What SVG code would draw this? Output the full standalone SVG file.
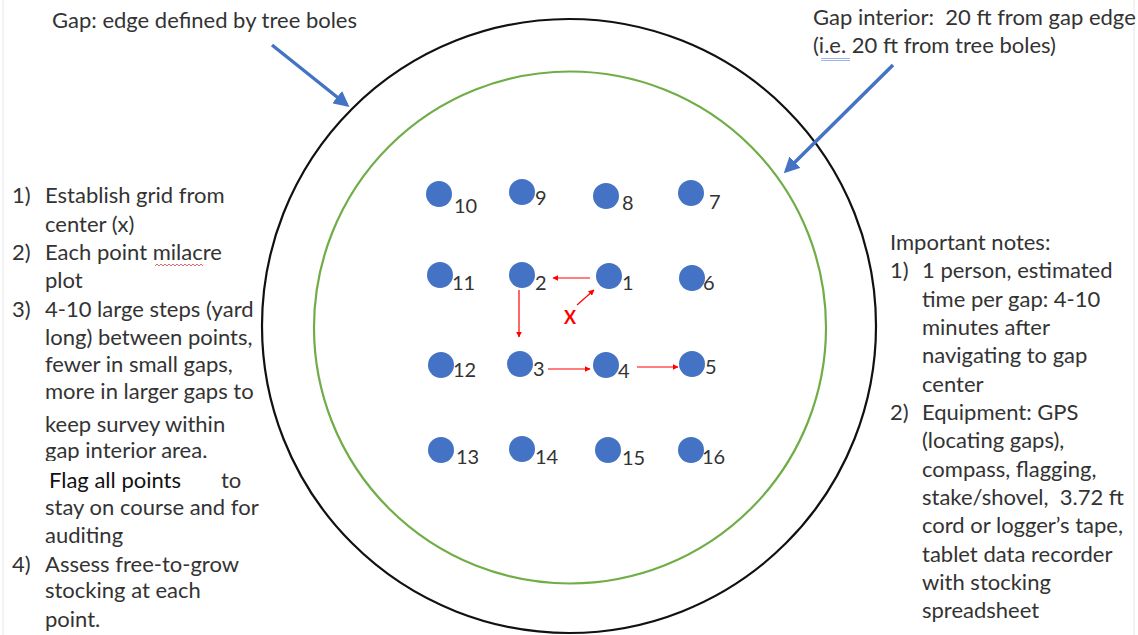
<svg xmlns="http://www.w3.org/2000/svg" width="1138" height="635" viewBox="0 0 1138 635">
<style>
.t{font-family:Lato,"Liberation Sans",sans-serif;font-size:22px;fill:#333;white-space:pre}
.n{font-family:Lato,"Liberation Sans",sans-serif;font-size:20px;fill:#333}
.dot{fill:#4472C4}
.red{stroke:#FF0000;stroke-width:1.2;fill:none;marker-end:url(#rh)}
.blue{stroke:#4472C4;stroke-width:3.5;fill:none;marker-end:url(#bh)}
</style>
<defs>
<marker id="rh" viewBox="0 0 10 10" refX="9" refY="5" markerWidth="6" markerHeight="6" markerUnits="userSpaceOnUse" orient="auto"><path d="M0,0 L10,5 L0,10 z" fill="#FF0000"/></marker>
<marker id="bh" viewBox="0 0 10 10" refX="8" refY="5" markerWidth="4.5" markerHeight="4.5" orient="auto"><path d="M0,0 L10,5 L0,10 z" fill="#4472C4"/></marker>
</defs>
<rect width="1138" height="635" fill="#fff"/>
<line x1="3" y1="0" x2="3" y2="635" stroke="#e6e6e6" stroke-width="1"/>
<line x1="1134" y1="0" x2="1134" y2="635" stroke="#e6e6e6" stroke-width="1"/>
<g id="gap-edge"><circle cx="569" cy="326" r="307" fill="none" stroke="#111" stroke-width="2.2"/></g>
<g id="gap-interior"><circle cx="570" cy="327.5" r="256" fill="none" stroke="#70AD47" stroke-width="2.2"/></g>
<g id="label-edge"><text class="t" x="52" y="28">Gap: edge defined by tree boles</text></g>
<g id="label-interior"><text class="t" x="813" y="25">Gap interior:  20 ft from gap edge</text><text class="t" x="813" y="53">(i.e. 20 ft from tree boles)</text><path d="M821,58.5 H850 M821,60.5 H850" stroke="#9bb7e8" stroke-width="1"/></g>
<g id="points">
<g id="p10"><circle class="dot" cx="439" cy="194" r="13"/><text class="n" x="454" y="213">10</text></g>
<g id="p9"><circle class="dot" cx="522" cy="192" r="13"/><text class="n" x="535" y="205">9</text></g>
<g id="p8"><circle class="dot" cx="606" cy="196" r="13"/><text class="n" x="622" y="210">8</text></g>
<g id="p7"><circle class="dot" cx="691" cy="193" r="13"/><text class="n" x="709" y="209">7</text></g>
<g id="p11"><circle class="dot" cx="440" cy="275" r="13"/><text class="n" x="452" y="290">11</text></g>
<g id="p2"><circle class="dot" cx="522" cy="275" r="13"/><text class="n" x="535" y="290">2</text></g>
<g id="p1"><circle class="dot" cx="609" cy="276" r="13"/><text class="n" x="622" y="290">1</text></g>
<g id="p6"><circle class="dot" cx="692" cy="278" r="13"/><text class="n" x="703" y="290">6</text></g>
<g id="p12"><circle class="dot" cx="441" cy="365" r="13"/><text class="n" x="453" y="377">12</text></g>
<g id="p3"><circle class="dot" cx="520" cy="364" r="13"/><text class="n" x="533" y="376">3</text></g>
<g id="p4"><circle class="dot" cx="606" cy="365" r="13"/><text class="n" x="618" y="378">4</text></g>
<g id="p5"><circle class="dot" cx="692" cy="364" r="13"/><text class="n" x="705" y="374">5</text></g>
<g id="p13"><circle class="dot" cx="441" cy="450" r="13"/><text class="n" x="456" y="464">13</text></g>
<g id="p14"><circle class="dot" cx="522" cy="449" r="13"/><text class="n" x="535" y="464">14</text></g>
<g id="p15"><circle class="dot" cx="608" cy="450" r="13"/><text class="n" x="622" y="465">15</text></g>
<g id="p16"><circle class="dot" cx="691" cy="450" r="13"/><text class="n" x="702" y="464">16</text></g>
</g>
<g id="center-x"><text x="570" y="324" text-anchor="middle" font-family="Lato,'Liberation Sans',sans-serif" font-size="18" font-weight="bold" fill="#FF0000">X</text></g>
<g id="connectors">
<path class="blue" d="M272,45 L347,105"/>
<path class="blue" d="M893,65 L786,171"/>
<path class="red" d="M590,278 L553,278"/>
<path class="red" d="M577,305 L594,290"/>
<path class="red" d="M519,290 L519,337"/>
<path class="red" d="M548,369 L590,369"/>
<path class="red" d="M637,367 L678,367"/>
</g>
<g id="left-notes">
<text class="t" x="12" y="203">1)</text><text class="t" x="45" y="203">Establish grid from</text>
<text class="t" x="45" y="232">center (x)</text>
<text class="t" x="12" y="260">2)</text><text class="t" x="45" y="260">Each point milacre</text>
<path d="M155,266 l2,-2 l2,2 l2,-2 l2,2 l2,-2 l2,2 l2,-2 l2,2 l2,-2 l2,2 l2,-2 l2,2 l2,-2 l2,2 l2,-2 l2,2 l2,-2 l2,2 l2,-2 l2,2 l2,-2 l2,2 l2,-2 l2,2" stroke="#e04040" stroke-width="0.8" fill="none"/>
<text class="t" x="45" y="288">plot</text>
<text class="t" x="12" y="317">3)</text><text class="t" x="45" y="317">4-10 large steps (yard</text>
<text class="t" x="45" y="345">long) between points,</text>
<text class="t" x="45" y="372">fewer in small gaps,</text>
<text class="t" x="45" y="399">more in larger gaps to</text>
<text class="t" x="45" y="432">keep survey within</text>
<text class="t" x="45" y="458">gap interior area.</text>
<rect x="40" y="461" width="150" height="30" fill="#fff"/>
<text class="t" x="49" y="488" style="fill:#111">Flag all points</text><text class="t" x="221" y="488">to</text>
<text class="t" x="45" y="515">stay on course and for</text>
<text class="t" x="45" y="543">auditing</text>
<text class="t" x="12" y="572">4)</text><text class="t" x="45" y="572">Assess free-to-grow</text>
<text class="t" x="45" y="598">stocking at each</text>
<text class="t" x="45" y="627">point.</text>
</g>
<g id="right-notes">
<text class="t" x="890" y="250">Important notes:</text>
<text class="t" x="890" y="278">1)</text><text class="t" x="922" y="278">1 person, estimated</text>
<text class="t" x="922" y="307">time per gap: 4-10</text>
<text class="t" x="922" y="335">minutes after</text>
<text class="t" x="922" y="363">navigating to gap</text>
<text class="t" x="922" y="392">center</text>
<text class="t" x="890" y="420">2)</text><text class="t" x="922" y="420">Equipment: GPS</text>
<text class="t" x="922" y="448">(locating gaps),</text>
<text class="t" x="922" y="477">compass, flagging,</text>
<text class="t" x="922" y="505">stake/shovel,  3.72 ft</text>
<text class="t" x="922" y="533">cord or logger’s tape,</text>
<text class="t" x="922" y="562">tablet data recorder</text>
<text class="t" x="922" y="590">with stocking</text>
<text class="t" x="922" y="618">spreadsheet</text>
</g>
</svg>
